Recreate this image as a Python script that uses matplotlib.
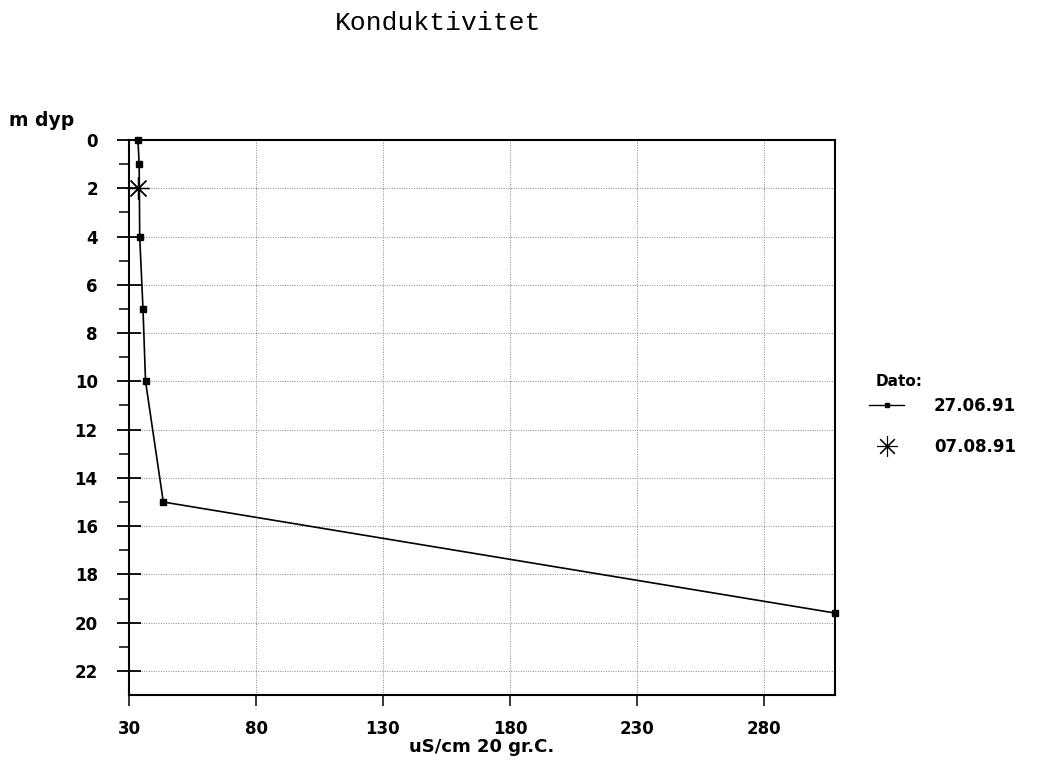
import matplotlib
matplotlib.use("Agg")
import matplotlib.pyplot as plt
from matplotlib.lines import Line2D
from matplotlib.ticker import FixedLocator

# Data
depth_2706 = [0, 1, 4, 7, 10, 15, 19.6]
cond_2706 = [33.5, 34, 34.2, 35.5, 36.5, 43.5, 308]
depth_0708 = [2]
cond_0708 = [33.5]

x_ticks = [30, 80, 130, 180, 230, 280]
y_ticks = [0, 2, 4, 6, 8, 10, 12, 14, 16, 18, 20, 22]
y_minor = [1, 3, 5, 7, 9, 11, 13, 15, 17, 19, 21]

title = "Konduktivitet"
xlabel = "uS/cm 20 gr.C."
ylabel = "m dyp"
legend_title = "Dato:"
labels = ["27.06.91", "07.08.91"]

W, H = 1049, 763
fig = plt.figure(figsize=(W / 100, H / 100), dpi=100)
ax = fig.add_axes([0.123, 0.089, 0.673, 0.7275])

ax.plot(cond_2706, depth_2706, color="black", lw=1.2, marker="s", ms=4,
        clip_on=False, zorder=3)
ax.plot(cond_0708, depth_0708, linestyle="none", color="black", marker=(8, 2, 0),
        ms=16, mew=0.9, clip_on=False, zorder=4)

ax.set_xlim(30, 308)
ax.set_ylim(23, 0)
ax.xaxis.set_major_locator(FixedLocator(x_ticks))
ax.yaxis.set_major_locator(FixedLocator(y_ticks))
ax.yaxis.set_minor_locator(FixedLocator(y_minor))

ax.grid(True, which="major", linestyle=(0, (1, 1.5)), color="#888888", lw=0.7)
for s in ax.spines.values():
    s.set_linewidth(1.5)

ax.tick_params(axis="y", which="major", direction="inout", length=17, width=1.3, pad=14)
ax.tick_params(axis="y", which="minor", direction="out", length=7, width=1.1)
ax.tick_params(axis="x", which="major", direction="out", length=8, width=1.1, pad=10)

for lab in ax.get_xticklabels() + ax.get_yticklabels():
    lab.set_fontweight("bold")
    lab.set_fontsize(12)
    lab.set_family("DejaVu Sans")

ax.set_xlabel(xlabel, fontsize=13, fontweight="bold", labelpad=0)
fig.text(0.009, 1 - 121 / H, ylabel, fontsize=13.5, fontweight="bold", ha="left", va="center")
fig.text(0.418, 1 - 23 / H, title, fontsize=19, family="Liberation Mono", ha="center", va="center")

fig.text(876 / W, 1 - 381 / H, legend_title, fontsize=11, fontweight="bold", ha="left", va="center")
handles = [Line2D([], [], color="black", lw=1.0, marker="s", ms=3),
           Line2D([], [], color="black", linestyle="none", marker=(8, 2, 0), ms=15, mew=0.8)]
leg = fig.legend(handles, labels, loc="upper left",
                 bbox_to_anchor=(869 / W, 1 - 397 / H), frameon=False, handlelength=2.1,
                 handletextpad=1.8, borderpad=0, borderaxespad=0,
                 prop={"weight": "bold", "size": 12}, labelspacing=1.35)

fig.savefig("out.png", dpi=100)
